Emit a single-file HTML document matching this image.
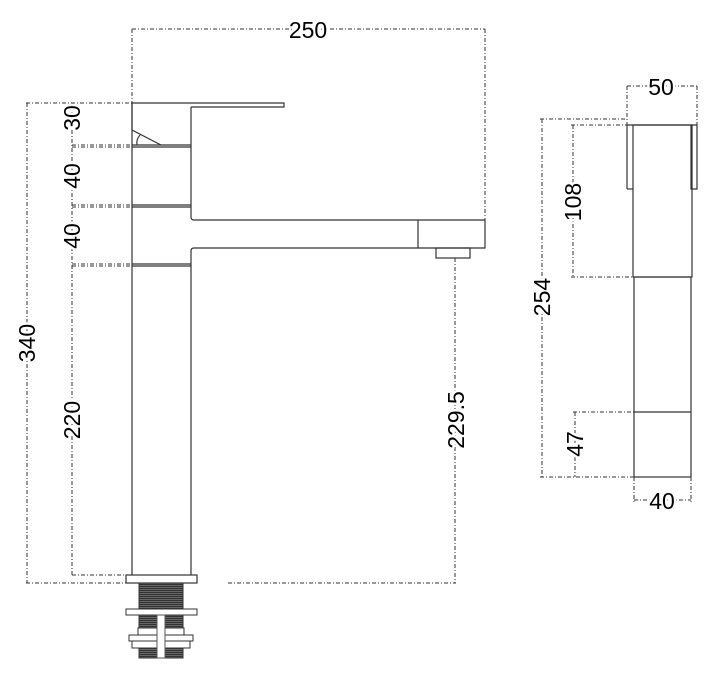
<!DOCTYPE html>
<html><head><meta charset="utf-8"><style>body{margin:0;background:#fff}svg{display:block}text{font-family:"Liberation Sans",Arial,sans-serif}</style></head><body>
<svg width="720" height="681" viewBox="0 0 720 681" xmlns="http://www.w3.org/2000/svg">
<defs><pattern id="th" width="4" height="2" patternUnits="userSpaceOnUse"><rect width="4" height="2" fill="#666"/><rect width="4" height="1" fill="#333"/></pattern></defs>
<g fill="none" stroke="#333" stroke-width="1" stroke-dasharray="4,2,1,2">
<line x1="132" y1="29" x2="485" y2="29"/>
<line x1="132" y1="29" x2="132" y2="103"/>
<line x1="485" y1="29" x2="485" y2="220"/>
<line x1="26" y1="103" x2="132" y2="103"/>
<line x1="27" y1="103" x2="27" y2="583"/>
<line x1="72" y1="103" x2="72" y2="575"/>
<line x1="72" y1="145" x2="132" y2="145"/><line x1="72" y1="147" x2="132" y2="147"/>
<line x1="72" y1="205" x2="132" y2="205"/><line x1="72" y1="207" x2="132" y2="207"/>
<line x1="72" y1="264" x2="132" y2="264"/><line x1="72" y1="266" x2="132" y2="266"/>
<line x1="72" y1="575" x2="126" y2="575"/>
<line x1="26" y1="583" x2="126" y2="583"/>
<line x1="228" y1="583" x2="456" y2="583"/>
<line x1="455" y1="258" x2="455" y2="583"/>
<line x1="627" y1="86" x2="697" y2="86"/>
<line x1="627" y1="86" x2="627" y2="125"/><line x1="697" y1="86" x2="697" y2="125"/>
<line x1="540" y1="119" x2="627" y2="119"/>
<line x1="542" y1="119" x2="542" y2="477"/>
<line x1="571" y1="125" x2="633" y2="125"/>
<line x1="573" y1="125" x2="573" y2="277"/>
<line x1="571" y1="277" x2="633" y2="277"/>
<line x1="573" y1="412" x2="634" y2="412"/>
<line x1="575" y1="412" x2="575" y2="477"/>
<line x1="540" y1="477" x2="634" y2="477"/>
<line x1="634" y1="477" x2="634" y2="503"/><line x1="691" y1="477" x2="691" y2="503"/>
<line x1="634" y1="500" x2="691" y2="500"/>
</g>
<g fill="none" stroke="#333" stroke-width="1.2">
<path d="M132 103 H284 V107 H191"/>
<path d="M132 103 V130 L161 145"/>
<path d="M137 145 A12 12 0 0 1 140 135"/>
<line x1="132" y1="145" x2="191" y2="145"/><line x1="132" y1="147" x2="191" y2="147"/>
<line x1="132" y1="205" x2="191" y2="205"/><line x1="132" y1="207" x2="191" y2="207"/>
<line x1="132" y1="264" x2="191" y2="264"/><line x1="132" y1="266" x2="191" y2="266"/>
<path d="M191 107 V217 Q191 220 194 220 H485 V248 H194 Q191 248 191 251 V575"/>
<line x1="132" y1="103" x2="132" y2="575"/>
<line x1="418" y1="220" x2="418" y2="248"/>
<rect x="436" y="248" width="34" height="10"/>
<rect x="126" y="575" width="71" height="8"/>
<path d="M627 189 V125 H697 V189 H691 V125"/>
<path d="M633 189 H627"/>
<rect x="633" y="125" width="59" height="152"/>
<rect x="634" y="277" width="57" height="200"/>
<line x1="634" y1="412" x2="691" y2="412"/>
</g>
<rect x="139" y="583" width="44" height="26" fill="url(#th)" stroke="#333"/>
<rect x="126" y="609" width="71" height="6" fill="#fff" stroke="#333"/>
<rect x="139" y="615" width="44" height="13" fill="url(#th)" stroke="#333"/>
<rect x="138" y="628" width="46" height="7" fill="#fff" stroke="#333"/>
<rect x="129" y="635" width="64" height="6" fill="#fff" stroke="#333"/>
<rect x="132" y="641" width="58" height="7" fill="#fff" stroke="#333"/>
<rect x="139" y="648" width="44" height="10" fill="url(#th)" stroke="#333"/>
<rect x="157" y="615" width="8" height="43" fill="#fff" stroke="#555"/>
<g font-size="23" fill="#000" text-anchor="middle" style="paint-order:stroke" stroke="#fff" stroke-width="5">
<text x="308" y="38">250</text>
<text x="661" y="95">50</text>
<text x="662" y="509">40</text>
<text transform="translate(80,118) rotate(-90)">30</text>
<text transform="translate(80,176) rotate(-90)">40</text>
<text transform="translate(80,236) rotate(-90)">40</text>
<text transform="translate(80,420) rotate(-90)">220</text>
<text transform="translate(35,343) rotate(-90)">340</text>
<text transform="translate(464,420) rotate(-90)">229.5</text>
<text transform="translate(550,297) rotate(-90)">254</text>
<text transform="translate(581,202) rotate(-90)">108</text>
<text transform="translate(583,444) rotate(-90)">47</text>
</g>
</svg>
</body></html>
